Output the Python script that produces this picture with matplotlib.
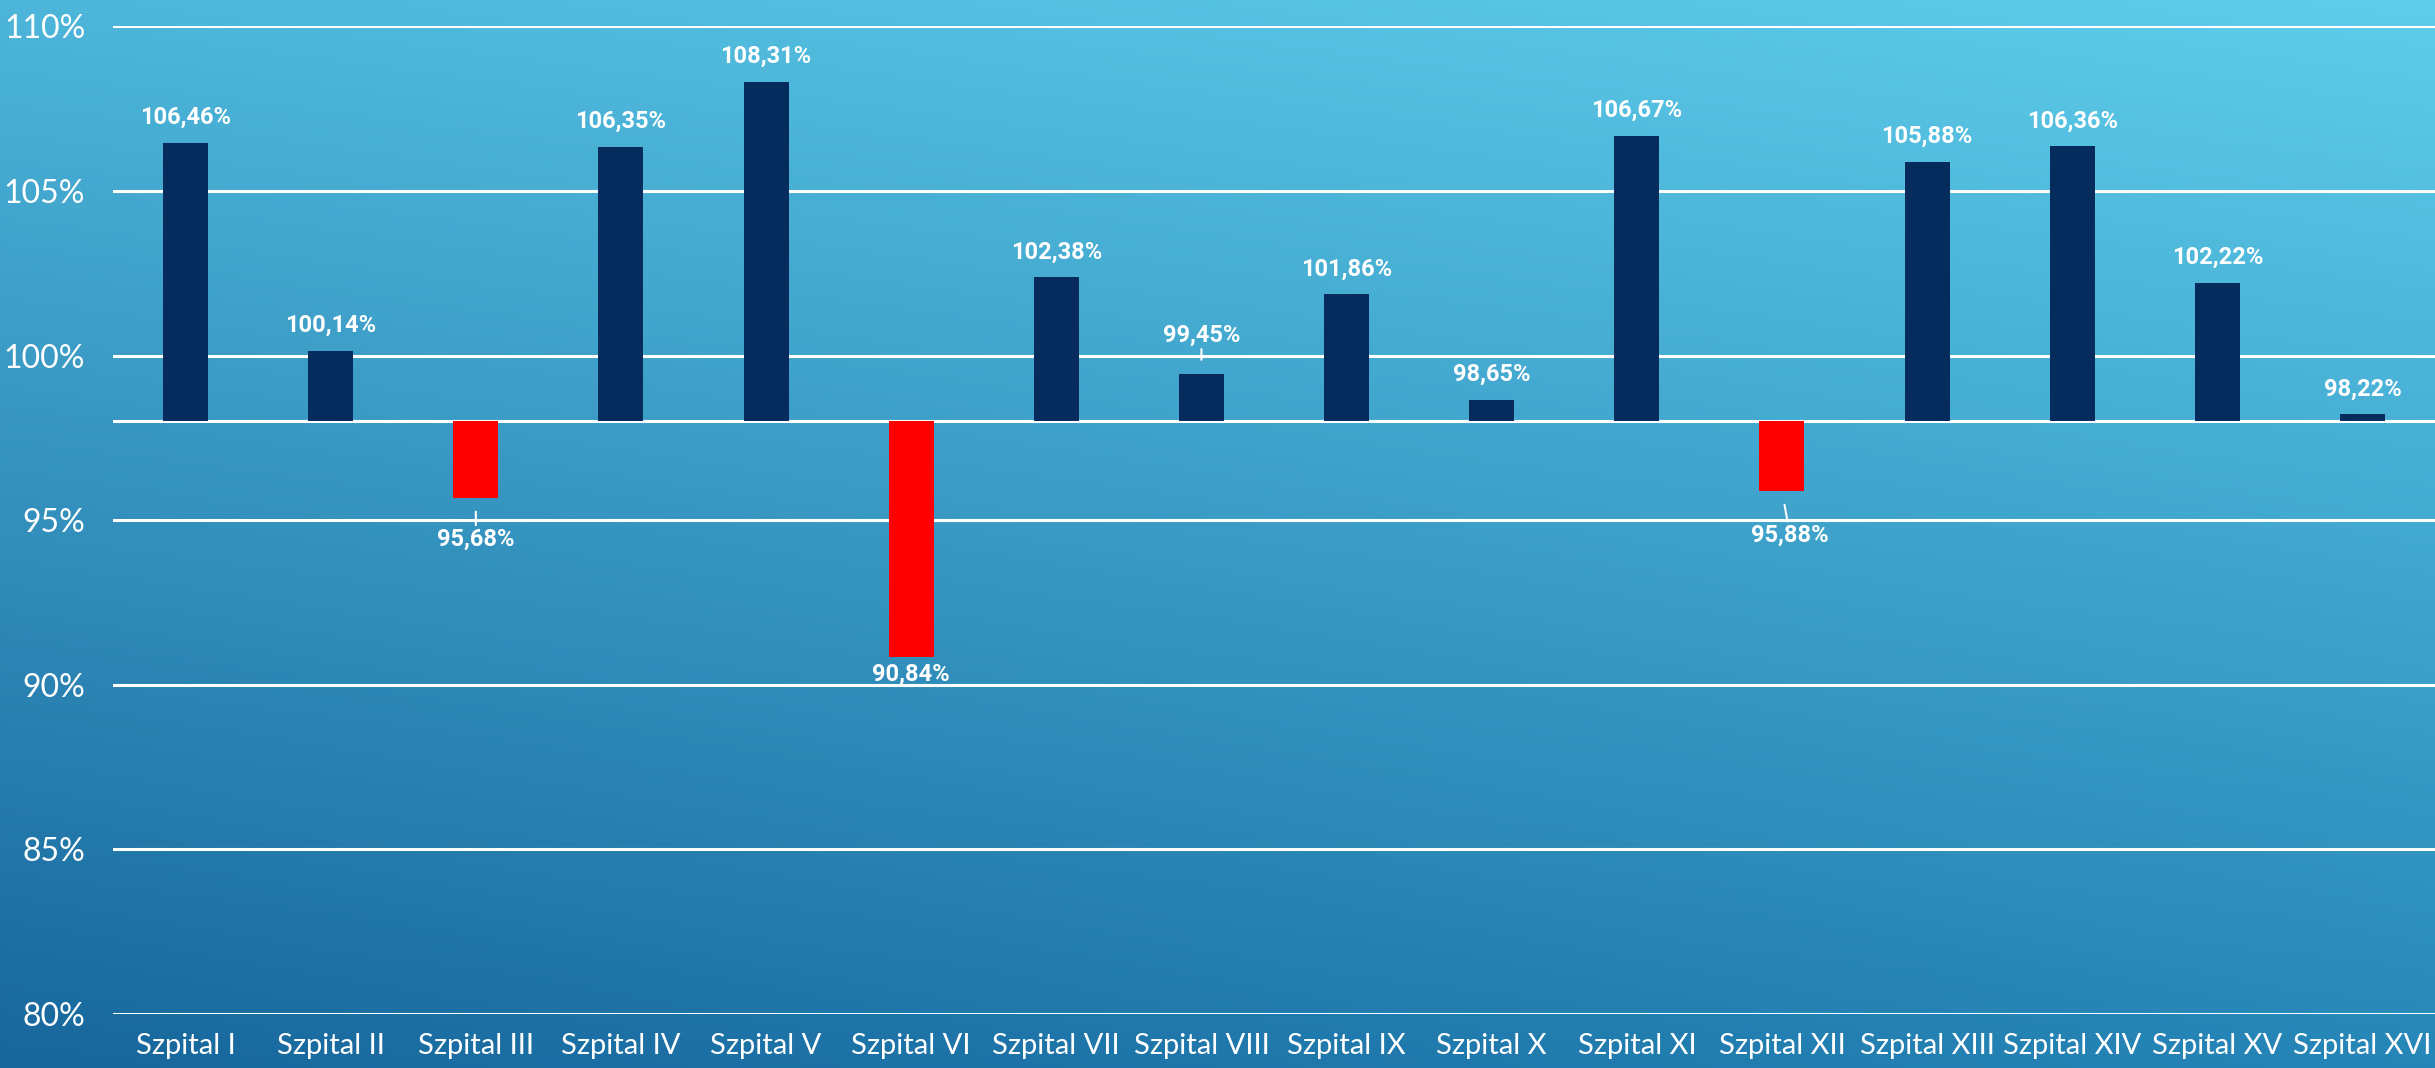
import matplotlib
matplotlib.use('Agg')
import matplotlib.pyplot as plt
import numpy as np

# Data
hospitals = ['Szpital I', 'Szpital II', 'Szpital III', 'Szpital IV', 'Szpital V',
             'Szpital VI', 'Szpital VII', 'Szpital VIII', 'Szpital IX', 'Szpital X',
             'Szpital XI', 'Szpital XII', 'Szpital XIII', 'Szpital XIV', 'Szpital XV',
             'Szpital XVI']
values = [106.46, 100.14, 95.68, 106.35, 108.31, 90.84, 102.38, 99.45,
          101.86, 98.65, 106.67, 95.88, 105.88, 106.36, 102.22, 98.22]
baseline = 98.0
y_ticks = [80, 85, 90, 95, 100, 105, 110]

# label tweaks: index -> (dx, dy) in points for labels with a leader line
leaders = {2: (0, -30), 7: (0, -28), 11: (6, -32)}

W, H = 2435, 1068
fig = plt.figure(figsize=(W / 100, H / 100), dpi=100)

# background gradient (bilinear between corner colours)
bg = fig.add_axes([0, 0, 1, 1], zorder=-10)
tl = np.array([0x4d, 0xb6, 0xda]) / 255
tr = np.array([0x5f, 0xcd, 0xea]) / 255
bl = np.array([0x17, 0x66, 0x9c]) / 255
br = np.array([0x26, 0x86, 0xb7]) / 255
yy, xx = np.mgrid[0:1:200j, 0:1:400j]
img = ((1 - yy)[..., None] * ((1 - xx)[..., None] * tl + xx[..., None] * tr)
       + yy[..., None] * ((1 - xx)[..., None] * bl + xx[..., None] * br))
bg.imshow(img, aspect='auto', extent=[0, 1, 0, 1], interpolation='bilinear')
bg.axis('off')

ax = fig.add_axes([113 / W, 1 - 1014 / H, 1 - 113 / W, (1014 - 26.4) / H])
ax.patch.set_alpha(0)

x = np.arange(len(hospitals))
heights = [v - baseline for v in values]
colors = ['#062c5e' if v >= baseline else '#ff0000' for v in values]
ax.bar(x, heights, bottom=baseline, width=0.31, color=colors, zorder=3)

for yt in y_ticks:
    ax.axhline(yt, color='white', lw=2.2, zorder=1)
ax.axhline(baseline, color='white', lw=2.2, zorder=2)

label_font = dict(family='Roboto', weight='bold', size=17, color='white')
for i, v in enumerate(values):
    txt = f'{v:.2f}%'.replace('.', ',')
    if i in leaders:
        dx, dy = leaders[i]
        ax.annotate(txt, (i, v), xytext=(dx, dy if v < baseline else -dy),
                    textcoords='offset points', ha='center', va='center',
                    arrowprops=dict(arrowstyle='-', color='white', lw=1.5,
                                    shrinkA=0, shrinkB=10), zorder=4, **label_font)
    elif v >= baseline:
        ax.annotate(txt, (i, v), xytext=(0, 10), textcoords='offset points',
                    ha='center', va='bottom', zorder=4, **label_font)
    else:
        ax.annotate(txt, (i, v), xytext=(0, -4), textcoords='offset points',
                    ha='center', va='top', zorder=4, **label_font)

ax.set_xlim(-0.5, len(hospitals) - 0.5)
ax.set_ylim(80, 110)
ax.set_yticks(y_ticks)
ax.set_yticklabels([f'{t}%' for t in y_ticks], family='Lato', weight='normal',
                   size=23, color='white')
ax.set_xticks(x)
ax.set_xticklabels(hospitals, family='Lato', weight='normal', size=21, color='white')
ax.tick_params(axis='x', length=0, pad=14)
ax.tick_params(axis='y', length=0, pad=20)
for s in ax.spines.values():
    s.set_visible(False)

fig.savefig('out.png', dpi=100)
